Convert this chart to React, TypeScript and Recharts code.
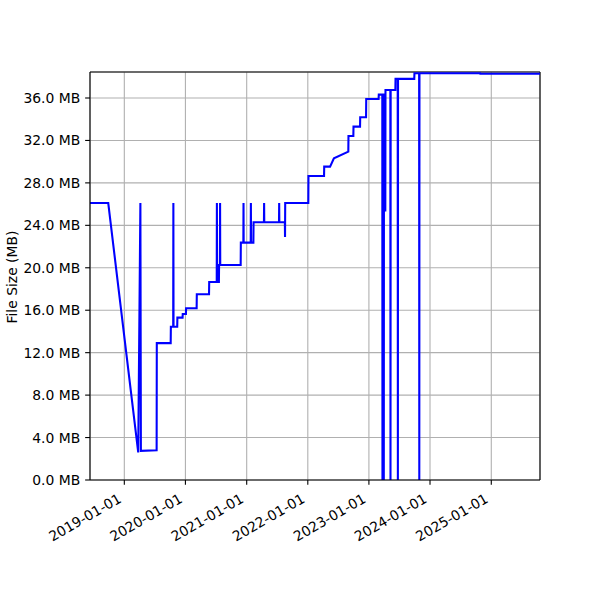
import React from "react";
import { LineChart, Line, XAxis, YAxis, CartesianGrid, ReferenceLine } from "recharts";

// dates where the file size changed, and the size (MB) from that point
const CHANGE_DATES = [
  "2018-06-10", "2018-09-27", "2019-03-25", "2019-04-07", "2019-04-10",
  "2019-07-13", "2019-07-14", "2019-10-05", "2019-10-06", "2019-10-20",
  "2019-10-21", "2019-10-22", "2019-11-13", "2019-11-14", "2019-12-15",
  "2019-12-16", "2020-01-04", "2020-01-05", "2020-03-08", "2020-03-09",
  "2020-05-21", "2020-05-22", "2020-07-06", "2020-07-07", "2020-07-08",
  "2020-07-19", "2020-07-20", "2020-07-25", "2020-07-26", "2020-07-27",
  "2020-11-26", "2020-11-27", "2020-12-12", "2020-12-13", "2020-12-14",
  "2021-01-25", "2021-01-26", "2021-01-27", "2021-02-10", "2021-02-11",
  "2021-04-14", "2021-04-15", "2021-04-16", "2021-07-13", "2021-07-14",
  "2021-07-15", "2021-08-17", "2021-08-18", "2021-08-19", "2022-01-04",
  "2022-01-05", "2022-04-08", "2022-04-09", "2022-05-14", "2022-06-06",
  "2022-08-31", "2022-09-01", "2022-09-30", "2022-10-01", "2022-11-09",
  "2022-11-10", "2022-12-15", "2022-12-16", "2023-02-28", "2023-03-01",
  "2023-03-22", "2023-03-23", "2023-03-24", "2023-03-30", "2023-03-31",
  "2023-04-01", "2023-04-08", "2023-04-09", "2023-04-10", "2023-05-09",
  "2023-05-10", "2023-05-11", "2023-06-08", "2023-06-09", "2023-06-22",
  "2023-06-23", "2023-06-24", "2023-09-29", "2023-09-30", "2023-10-28",
  "2023-10-29", "2023-10-30", "2024-10-26", "2024-10-27", "2025-10-19",
];

const FILE_SIZES_MB = [
  26.1, 26.1, 2.6, 26.1, 2.75,
  2.8, 12.9, 12.9, 14.45, 14.45,
  26.1, 14.45, 14.45, 15.3, 15.3,
  15.64, 15.64, 16.18, 16.18, 17.5,
  17.5, 18.66, 18.66, 26.1, 18.66,
  18.66, 20.26, 20.26, 26.1, 20.26,
  20.26, 22.37, 22.37, 26.1, 22.37,
  22.37, 26.1, 22.37, 22.37, 24.29,
  24.29, 26.1, 24.29, 24.29, 26.1,
  24.29, 24.29, 22.9, 26.1, 26.1,
  28.65, 28.65, 29.53, 29.53, 30.32,
  30.94, 32.42, 32.42, 33.3, 33.3,
  34.18, 34.18, 35.91, 35.91, 36.32,
  36.32, 0, 36.32, 36.32, 0,
  36.32, 36.32, 25.3, 36.76, 36.76,
  0, 36.76, 36.76, 37.8, 37.8,
  0, 37.8, 37.8, 38.33, 38.33,
  0, 38.33, 38.33, 38.28, 38.28,
];

const X_TICK_DATES = [
  "2019-01-01", "2020-01-01", "2021-01-01", "2022-01-01",
  "2023-01-01", "2024-01-01", "2025-01-01",
];
const Y_TICKS = [0, 4, 8, 12, 16, 20, 24, 28, 32, 36];

const X_MIN = Date.parse("2018-06-10");
const X_MAX = Date.parse("2025-10-19");
const Y_MAX = 38.45;

const data = CHANGE_DATES.map((d, i) => ({ t: Date.parse(d), size: FILE_SIZES_MB[i] }));
const xTicks = X_TICK_DATES.map((d) => Date.parse(d));

const FONT = "DejaVu Sans, sans-serif";
const PLOT_BOTTOM = 480;

const fmtDate = (t: number) => new Date(t).toISOString().slice(0, 10);

function XTick(props: any) {
  const { x, payload } = props;
  const bx = x - 2;
  const by = PLOT_BOTTOM + 21.5;
  return (
    <text
      x={bx}
      y={by}
      textAnchor="end"
      fontSize={13.9}
      fontFamily={FONT}
      fill="#000"
      transform={`rotate(-30 ${bx} ${by})`}
    >
      {fmtDate(payload.value)}
    </text>
  );
}

function YTick(props: any) {
  const { y, payload } = props;
  return (
    <text x={80.3} y={y} dy={5} textAnchor="end" fontSize={13.9} fontFamily={FONT} fill="#000">
      {payload.value.toFixed(1)} MB
    </text>
  );
}

export default function App() {
  return (
    <div style={{ position: "absolute", left: 0, top: 0, width: 600, height: 600, background: "#fff" }}>
      <LineChart width={600} height={600} data={data} margin={{ top: 72, right: 60, bottom: 50, left: 0 }}>
        <CartesianGrid stroke="#b0b0b0" strokeWidth={1.1} />
        <XAxis
          dataKey="t"
          type="number"
          domain={[X_MIN, X_MAX]}
          ticks={xTicks}
          allowDataOverflow
          height={70}
          tickSize={4.86}
          tickLine={{ stroke: "#000", strokeWidth: 1.1 }}
          axisLine={{ stroke: "#000", strokeWidth: 1.1 }}
          tick={<XTick />}
          interval={0}
        />
        <YAxis
          type="number"
          domain={[0, Y_MAX]}
          ticks={Y_TICKS}
          allowDataOverflow
          width={90}
          tickSize={4.86}
          tickLine={{ stroke: "#000", strokeWidth: 1.1 }}
          axisLine={{ stroke: "#000", strokeWidth: 1.1 }}
          tick={<YTick />}
          interval={0}
          label={{
            content: () => (
              <text
                x={16.5}
                y={277}
                textAnchor="middle"
                fontSize={13.9}
                fontFamily={FONT}
                fill="#000"
                transform="rotate(-90 16.5 277)"
              >
                File Size (MB)
              </text>
            ),
          }}
        />
        <ReferenceLine y={Y_MAX} stroke="#000" strokeWidth={1.1} />
        <ReferenceLine x={X_MAX} stroke="#000" strokeWidth={1.1} />
        <Line
          type="linear"
          dataKey="size"
          stroke="#0000ff"
          strokeWidth={2.08}
          dot={false}
          activeDot={false}
          isAnimationActive={false}
        />
      </LineChart>
    </div>
  );
}
